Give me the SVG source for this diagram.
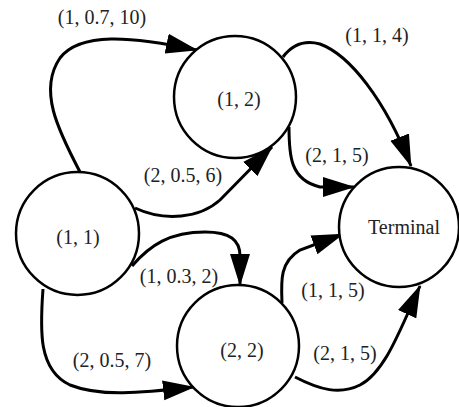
<svg xmlns="http://www.w3.org/2000/svg" width="459" height="407" viewBox="0 0 459 407">
<style>
.node{fill:#fff;stroke:#000;stroke-width:2.5}
.edge{fill:none;stroke:#000;stroke-width:3;marker-end:url(#ah)}
text{font-family:"Liberation Serif","Times New Roman",serif;font-size:20px;fill:#222;text-anchor:middle}
</style>
<defs>
<marker id="ah" markerUnits="userSpaceOnUse" markerWidth="32" markerHeight="22" viewBox="0 0 32 22" refX="31" refY="11" orient="auto">
<path d="M0,1 L32,11 L0,21 z" fill="#000"/>
</marker>
</defs>
<g id="edges">
<path class="edge" d="M80,172 C58,130 38,90 60,58 C80,32 130,36 197,50"/>
<path class="edge" d="M135,208 C165,222 200,218 220,200 L272,147"/>
<path class="edge" d="M132,266 C150,245 170,232 205,232 C230,232 240,240 240,256 L240,285"/>
<path class="edge" d="M43,289 C40,330 38,370 70,385 C100,397 140,393 194,387"/>
<path class="edge" d="M283,57 C292,45 305,40 320,44 C350,55 385,100 411,166"/>
<path class="edge" d="M289,127 C289,155 290,180 320,187 L354,187"/>
<path class="edge" d="M282,303 C281,280 280,262 300,250 L343,234"/>
<path class="edge" d="M295,377 C320,390 340,395 360,385 C385,372 400,330 420,286"/>
<text x="102" y="24">(1, 0.7, 10)</text>
<text x="377" y="42">(1, 1, 4)</text>
<text x="337" y="162">(2, 1, 5)</text>
<text x="183" y="182">(2, 0.5, 6)</text>
<text x="179" y="283">(1, 0.3, 2)</text>
<text x="112" y="367">(2, 0.5, 7)</text>
<text x="333" y="297">(1, 1, 5)</text>
<text x="345" y="360">(2, 1, 5)</text>
</g>
<g id="n12"><circle class="node" cx="235" cy="97" r="61"/><text x="239" y="106">(1, 2)</text></g>
<g id="n11"><circle class="node" cx="77.5" cy="233.5" r="61.5"/><text x="78" y="244">(1, 1)</text></g>
<g id="n22"><circle class="node" cx="238" cy="346" r="61"/><text x="242" y="357">(2, 2)</text></g>
<g id="terminal"><circle class="node" cx="399" cy="227" r="60"/><text x="404" y="234">Terminal</text></g>
</svg>
